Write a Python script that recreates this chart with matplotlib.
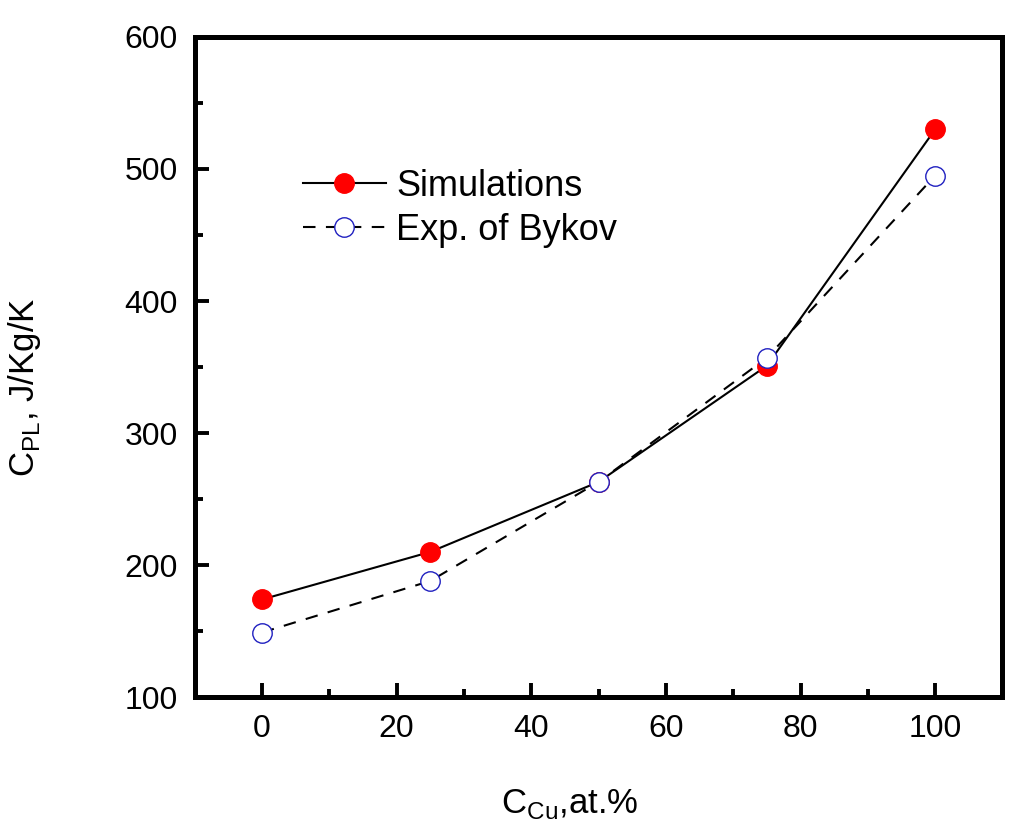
import numpy as np
import matplotlib.pyplot as plt
from matplotlib.ticker import MultipleLocator

plt.rcParams['font.family'] = ['Liberation Sans', 'DejaVu Sans']

# Cu content (at.%)
c_cu = [0, 25, 50, 75, 100]
# heat capacity, J/Kg/K
cp_sim = [174, 210, 263, 351, 530]
cp_exp = [149, 188, 263, 357, 495]

fig = plt.figure(figsize=(10.24, 8.39), dpi=100)
ax = fig.add_axes([0.190, 0.169, 0.789, 0.787])

ax.plot(c_cu, cp_sim, '-', color='black', linewidth=1.5,
        marker='o', markersize=14, markerfacecolor='red', markeredgecolor='red',
        label='Simulations', zorder=3)
ax.plot(c_cu, cp_exp, '--', color='black', linewidth=1.5, dashes=(6, 5),
        marker='o', markersize=14, markerfacecolor='white', markeredgecolor='#2020c0',
        markeredgewidth=1.0, label='Exp. of Bykov', zorder=4)

ax.set_xlim(-10, 110)
ax.set_ylim(100, 600)
ax.xaxis.set_major_locator(MultipleLocator(20))
ax.xaxis.set_minor_locator(MultipleLocator(10))
ax.yaxis.set_major_locator(MultipleLocator(100))
ax.yaxis.set_minor_locator(MultipleLocator(50))
ax.tick_params(which='both', direction='in', top=False, right=False,
               labelsize=23, width=2.8)
ax.tick_params(which='major', length=10, pad=12)
ax.tick_params(which='minor', length=6)

for s in ax.spines.values():
    s.set_linewidth(3.6)

ax.set_xlabel(r'C$_{\mathregular{Cu}}$,at.%', fontsize=25)
ax.set_ylabel(r'C$_{\mathregular{PL}}$, J/Kg/K', fontsize=25)
ax.xaxis.set_label_coords(0.464, -0.136)
ax.yaxis.set_label_coords(-0.188, 0.47)

ax.legend(loc='upper left', bbox_to_anchor=(0.134, 0.800), frameon=False,
          fontsize=26, handlelength=2.3, handletextpad=0.28, labelspacing=0.25,
          borderpad=0, borderaxespad=0)

fig.savefig('out.png', dpi=100)
